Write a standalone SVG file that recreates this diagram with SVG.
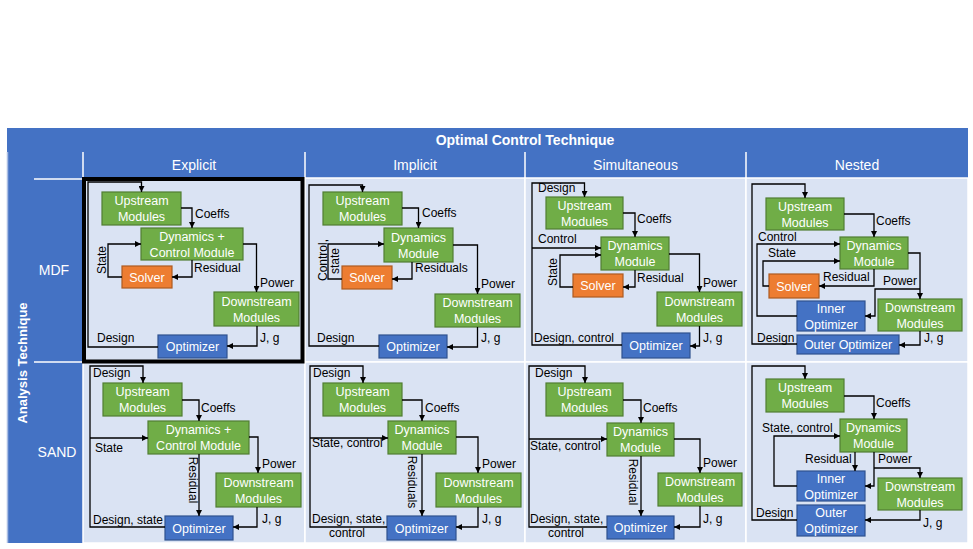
<svg xmlns="http://www.w3.org/2000/svg" width="973" height="549" viewBox="0 0 973 549">
<defs>
<marker id="ah" viewBox="0 0 10 10" refX="10" refY="5" markerWidth="6" markerHeight="6" markerUnits="userSpaceOnUse" orient="auto"><path d="M0,0 L10,5 L0,10 z" fill="#000"/></marker>
<style>
text{font-family:"Liberation Sans",Arial,sans-serif;font-size:12px}
.g{fill:#70AD47;stroke:#507E32;stroke-width:1.2}
.o{fill:#ED7D31;stroke:#AE5A21;stroke-width:1.2}
.b{fill:#4472C4;stroke:#2F528F;stroke-width:1.2}
.w{fill:#fff;text-anchor:middle;font-size:12.5px}
.k{fill:#000}
.m{text-anchor:middle}
.c{fill:none;stroke:#000;stroke-width:1.3}
.a{marker-end:url(#ah)}
.h{fill:#fff;font-size:14px;text-anchor:middle}
.t{fill:#fff;font-weight:bold;text-anchor:middle}
.cell{fill:#DAE3F3;stroke:#fff;stroke-width:1.5}
.wl{stroke:#fff;stroke-width:1.5}
</style>
</defs>
<rect x="0" y="0" width="973" height="549" fill="#fff"/>
<g id="table">
<rect x="7" y="128" width="961" height="415" fill="#4472C4"/>
<line x1="7.5" y1="152" x2="7.5" y2="543" stroke="#A9BDE3" stroke-width="1.5"/>
<rect class="cell" x="83" y="178" width="222" height="184"/>
<rect class="cell" x="305" y="178" width="220" height="184"/>
<rect class="cell" x="525" y="178" width="221" height="184"/>
<rect class="cell" x="746" y="178" width="222" height="184"/>
<rect class="cell" x="83" y="362" width="222" height="181"/>
<rect class="cell" x="305" y="362" width="220" height="181"/>
<rect class="cell" x="525" y="362" width="221" height="181"/>
<rect class="cell" x="746" y="362" width="222" height="181"/>
<line class="wl" x1="83" y1="152" x2="83" y2="178"/>
<line class="wl" x1="305" y1="152" x2="305" y2="178"/>
<line class="wl" x1="525" y1="152" x2="525" y2="178"/>
<line class="wl" x1="746" y1="152" x2="746" y2="178"/>
<line class="wl" x1="34" y1="179" x2="83" y2="179"/>
<line class="wl" x1="34" y1="362" x2="83" y2="362"/>
<text class="t" x="525" y="145" style="font-size:14px">Optimal Control Technique</text>
<text class="h" x="194" y="170">Explicit</text>
<text class="h" x="415" y="170">Implicit</text>
<text class="h" x="635.5" y="170">Simultaneous</text>
<text class="h" x="857" y="170">Nested</text>
<text class="h" x="54" y="275">MDF</text>
<text class="h" x="57" y="457">SAND</text>
<text class="t" x="27" y="363" style="font-size:13px" transform="rotate(-90 27 363)">Analysis Technique</text>
<rect x="84" y="179" width="218.5" height="182.5" fill="none" stroke="#000" stroke-width="4"/>
</g>

<g id="mdf-explicit">
<g id="e1-up"><rect class="g" x="102" y="192" width="79" height="33"/><text class="w" x="141.5" y="205">Upstream</text><text class="w" x="141.5" y="221">Modules</text></g>
<g id="e1-dyn"><rect class="g" x="141" y="228" width="102" height="32"/><text class="w" x="192" y="240.5">Dynamics +</text><text class="w" x="192" y="256.5">Control Module</text></g>
<g id="e1-sol"><rect class="o" x="122" y="266" width="50" height="22"/><text class="w" x="147" y="281.5">Solver</text></g>
<g id="e1-down"><rect class="g" x="214" y="292" width="85" height="34"/><text class="w" x="256.5" y="305.5">Downstream</text><text class="w" x="256.5" y="321.5">Modules</text></g>
<g id="e1-opt"><rect class="b" x="158" y="335" width="69" height="23"/><text class="w" x="192.5" y="351">Optimizer</text></g>
</g>

<g id="mdf-implicit">
<g id="i1-up"><rect class="g" x="323" y="192" width="79" height="33"/><text class="w" x="362.5" y="205">Upstream</text><text class="w" x="362.5" y="221">Modules</text></g>
<g id="i1-dyn"><rect class="g" x="384" y="228" width="69" height="34"/><text class="w" x="418.5" y="241.5">Dynamics</text><text class="w" x="418.5" y="257.5">Module</text></g>
<g id="i1-sol"><rect class="o" x="342" y="266" width="50" height="23"/><text class="w" x="367" y="282">Solver</text></g>
<g id="i1-down"><rect class="g" x="435" y="294" width="85" height="33"/><text class="w" x="477.5" y="307">Downstream</text><text class="w" x="477.5" y="323">Modules</text></g>
<g id="i1-opt"><rect class="b" x="379" y="335" width="68" height="23"/><text class="w" x="413" y="351">Optimizer</text></g>
</g>

<g id="mdf-simultaneous">
<g id="s1-up"><rect class="g" x="546" y="197" width="77" height="32"/><text class="w" x="584.5" y="209.5">Upstream</text><text class="w" x="584.5" y="225.5">Modules</text></g>
<g id="s1-dyn"><rect class="g" x="601" y="237" width="68" height="33"/><text class="w" x="635" y="250">Dynamics</text><text class="w" x="635" y="266">Module</text></g>
<g id="s1-sol"><rect class="o" x="573" y="274" width="50" height="23"/><text class="w" x="598" y="290">Solver</text></g>
<g id="s1-down"><rect class="g" x="657" y="292" width="85" height="34"/><text class="w" x="699.5" y="305.5">Downstream</text><text class="w" x="699.5" y="321.5">Modules</text></g>
<g id="s1-opt"><rect class="b" x="622" y="333" width="68" height="25"/><text class="w" x="656" y="350">Optimizer</text></g>
</g>

<g id="mdf-nested">
<g id="n1-up"><rect class="g" x="766" y="198" width="78" height="32"/><text class="w" x="805" y="210.5">Upstream</text><text class="w" x="805" y="226.5">Modules</text></g>
<g id="n1-dyn"><rect class="g" x="840" y="237" width="68" height="32"/><text class="w" x="874" y="249.5">Dynamics</text><text class="w" x="874" y="265.5">Module</text></g>
<g id="n1-sol"><rect class="o" x="769" y="274" width="50" height="24"/><text class="w" x="794" y="290.5">Solver</text></g>
<g id="n1-inner"><rect class="b" x="797" y="301" width="68" height="30"/><text class="w" x="831" y="312.5">Inner</text><text class="w" x="831" y="328.5">Optimizer</text></g>
<g id="n1-down"><rect class="g" x="878" y="299" width="84" height="32"/><text class="w" x="920" y="311.5">Downstream</text><text class="w" x="920" y="327.5">Modules</text></g>
<g id="n1-outer"><rect class="b" x="797" y="335" width="102" height="19"/><text class="w" x="848" y="349">Outer Optimizer</text></g>
</g>

<g id="sand-explicit">
<g id="e2-up"><rect class="g" x="103" y="383" width="79" height="33"/><text class="w" x="142.5" y="396">Upstream</text><text class="w" x="142.5" y="412">Modules</text></g>
<g id="e2-dyn"><rect class="g" x="148" y="421" width="101" height="33"/><text class="w" x="198.5" y="434">Dynamics +</text><text class="w" x="198.5" y="450">Control Module</text></g>
<g id="e2-down"><rect class="g" x="216" y="473" width="85" height="34"/><text class="w" x="258.5" y="486.5">Downstream</text><text class="w" x="258.5" y="502.5">Modules</text></g>
<g id="e2-opt"><rect class="b" x="165" y="516" width="68" height="24"/><text class="w" x="199" y="532.5">Optimizer</text></g>
</g>

<g id="sand-implicit">
<g id="i2-up"><rect class="g" x="323" y="383" width="79" height="33"/><text class="w" x="362.5" y="396">Upstream</text><text class="w" x="362.5" y="412">Modules</text></g>
<g id="i2-dyn"><rect class="g" x="388" y="421" width="68" height="33"/><text class="w" x="422" y="434">Dynamics</text><text class="w" x="422" y="450">Module</text></g>
<g id="i2-down"><rect class="g" x="436" y="473" width="85" height="34"/><text class="w" x="478.5" y="486.5">Downstream</text><text class="w" x="478.5" y="502.5">Modules</text></g>
<g id="i2-opt"><rect class="b" x="387" y="516" width="69" height="24"/><text class="w" x="421.5" y="532.5">Optimizer</text></g>
</g>

<g id="sand-simultaneous">
<g id="s2-up"><rect class="g" x="546" y="383" width="77" height="33"/><text class="w" x="584.5" y="396">Upstream</text><text class="w" x="584.5" y="412">Modules</text></g>
<g id="s2-dyn"><rect class="g" x="607" y="423" width="67" height="33"/><text class="w" x="640.5" y="436">Dynamics</text><text class="w" x="640.5" y="452">Module</text></g>
<g id="s2-down"><rect class="g" x="658" y="473" width="84" height="33"/><text class="w" x="700" y="486">Downstream</text><text class="w" x="700" y="502">Modules</text></g>
<g id="s2-opt"><rect class="b" x="607" y="516" width="67" height="23"/><text class="w" x="640.5" y="532">Optimizer</text></g>
</g>

<g id="sand-nested">
<g id="n2-up"><rect class="g" x="766" y="379" width="78" height="33"/><text class="w" x="805" y="392">Upstream</text><text class="w" x="805" y="408">Modules</text></g>
<g id="n2-dyn"><rect class="g" x="840" y="419" width="67" height="33"/><text class="w" x="873.5" y="432">Dynamics</text><text class="w" x="873.5" y="448">Module</text></g>
<g id="n2-inner"><rect class="b" x="797" y="471" width="68" height="30"/><text class="w" x="831" y="482.5">Inner</text><text class="w" x="831" y="498.5">Optimizer</text></g>
<g id="n2-down"><rect class="g" x="878" y="478" width="84" height="32"/><text class="w" x="920" y="490.5">Downstream</text><text class="w" x="920" y="506.5">Modules</text></g>
<g id="n2-outer"><rect class="b" x="797" y="505" width="68" height="31"/><text class="w" x="831" y="517">Outer</text><text class="w" x="831" y="533">Optimizer</text></g>
</g>

<g id="connectors">
<g id="c-e1">
<polyline class="c a" points="158,347 88,347 88,182 141.5,182 141.5,192"/>
<polyline class="c a" points="181,208 192,208 192,228"/>
<polyline class="c a" points="243,244 256.5,244 256.5,292"/>
<polyline class="c a" points="192,260 192,277 172,277"/>
<polyline class="c a" points="122,277 108,277 108,244 141,244"/>
<polyline class="c a" points="257,326 257,346 227,346"/>
</g>
<g id="c-i1">
<polyline class="c a" points="379,346 309,346 309,185 362.5,185 362.5,192"/>
<polyline class="c a" points="402,208 418.5,208 418.5,228"/>
<polyline class="c a" points="453,245 477.5,245 477.5,294"/>
<polyline class="c a" points="412,262 412,279 392,279"/>
<polyline class="c a" points="342,279 328,279 328,244 384,244"/>
<polyline class="c a" points="477.5,327 477.5,347 447,347"/>
</g>
<g id="c-s1">
<polyline class="c a" points="622,345 532,345 532,183 584.5,183 584.5,197"/>
<polyline class="c a" points="532,248 601,248"/>
<polyline class="c a" points="623,213 635,213 635,237"/>
<polyline class="c a" points="669,254 699.5,254 699.5,292"/>
<polyline class="c a" points="635,270 635,287 623,287"/>
<polyline class="c a" points="573,287 560,287 560,255 601,255"/>
<polyline class="c a" points="699.5,326 699.5,346 690,346"/>
</g>
<g id="c-n1">
<polyline class="c a" points="797,344 752,344 752,184 805,184 805,198"/>
<polyline class="c a" points="844,214 874,214 874,237"/>
<polyline class="c a" points="797,316 757,316 757,244 840,244"/>
<polyline class="c a" points="769,286 763,286 763,261 840,261"/>
<polyline class="c a" points="874,269 874,286 819,286"/>
<polyline class="c a" points="908,253 920,253 920,299"/>
<polyline class="c a" points="920,289 875,289 875,316 865,316"/>
<polyline class="c a" points="920,331 920,345 899,345"/>
</g>
<g id="c-e2">
<polyline class="c a" points="165,527 90,527 90,366 143,366 143,383"/>
<polyline class="c a" points="90,438 148,438"/>
<polyline class="c a" points="182,400 199,400 199,421"/>
<polyline class="c a" points="249,437 258,437 258,473"/>
<polyline class="c a" points="199,454 199,516"/>
<polyline class="c a" points="257,507 257,527 233,527"/>
</g>
<g id="c-i2">
<polyline class="c a" points="387,527 310,527 310,366 363,366 363,383"/>
<polyline class="c a" points="310,438 388,438"/>
<polyline class="c a" points="402,400 422,400 422,421"/>
<polyline class="c a" points="456,437 478,437 478,473"/>
<polyline class="c a" points="422,454 422,516"/>
<polyline class="c a" points="478,507 478,527 456,527"/>
</g>
<g id="c-s2">
<polyline class="c a" points="607,527 529,527 529,366 585,366 585,383"/>
<polyline class="c a" points="529,439 607,439"/>
<polyline class="c a" points="623,400 641,400 641,423"/>
<polyline class="c a" points="674,439 700,439 700,473"/>
<polyline class="c a" points="641,456 641,516"/>
<polyline class="c a" points="700,506 700,527 674,527"/>
</g>
<g id="c-n2">
<polyline class="c a" points="797,520 752,520 752,366 805,366 805,379"/>
<polyline class="c a" points="844,396 874,396 874,419"/>
<polyline class="c a" points="797,486 774,486 774,436 840,436"/>
<polyline class="c a" points="855,452 855,471"/>
<polyline class="c a" points="874,452 874,486 865,486"/>
<polyline class="c a" points="874,468 920,468 920,478"/>
<polyline class="c a" points="920,510 920,520 865,520"/>
</g>
</g>

<g id="labels">
<text class="k" x="195" y="218">Coeffs</text>
<text class="k" x="194" y="272">Residual</text>
<text class="k" x="260" y="287">Power</text>
<text class="k m" x="106" y="260" transform="rotate(-90 106 260)">State</text>
<text class="k" x="97" y="342">Design</text>
<text class="k" x="260" y="342">J, g</text>

<text class="k" x="422" y="217">Coeffs</text>
<text class="k" x="415" y="272">Residuals</text>
<text class="k" x="481" y="288">Power</text>
<text class="k m" x="326.5" y="260" transform="rotate(-90 326.5 260)">Control,</text>
<text class="k m" x="338.5" y="261" transform="rotate(-90 338.5 261)">state</text>
<text class="k" x="317" y="342">Design</text>
<text class="k" x="481" y="342">J, g</text>

<text class="k" x="538" y="192">Design</text>
<text class="k" x="538" y="243">Control</text>
<text class="k" x="637" y="223">Coeffs</text>
<text class="k" x="637" y="282">Residual</text>
<text class="k" x="703" y="287">Power</text>
<text class="k m" x="557" y="272" transform="rotate(-90 557 272)">State</text>
<text class="k" x="534" y="342">Design, control</text>
<text class="k" x="703" y="342">J, g</text>

<text class="k" x="758" y="241">Control</text>
<text class="k" x="768" y="257">State</text>
<text class="k" x="876" y="225">Coeffs</text>
<text class="k" x="823" y="281">Residual</text>
<text class="k" x="883" y="285">Power</text>
<text class="k" x="757" y="342">Design</text>
<text class="k" x="924" y="342">J, g</text>

<text class="k" x="93" y="377">Design</text>
<text class="k" x="95" y="452">State</text>
<text class="k" x="201" y="412">Coeffs</text>
<text class="k" x="262" y="468">Power</text>
<text class="k m" x="188.5" y="480" transform="rotate(90 188.5 480)">Residual</text>
<text class="k" x="262" y="523">J, g</text>
<text class="k" x="93" y="524">Design, state</text>

<text class="k" x="313" y="377">Design</text>
<text class="k" x="312" y="447">State, control</text>
<text class="k" x="425" y="412">Coeffs</text>
<text class="k" x="482" y="468">Power</text>
<text class="k m" x="408" y="482" transform="rotate(90 408 482)">Residuals</text>
<text class="k" x="482" y="523">J, g</text>
<text class="k" x="312" y="523">Design, state,</text>
<text class="k" x="329" y="537">control</text>

<text class="k" x="535" y="377">Design</text>
<text class="k" x="530" y="450">State, control</text>
<text class="k" x="643" y="412">Coeffs</text>
<text class="k" x="703" y="467">Power</text>
<text class="k m" x="629" y="482" transform="rotate(90 629 482)">Residual</text>
<text class="k" x="703" y="523">J, g</text>
<text class="k" x="530" y="523">Design, state,</text>
<text class="k" x="548" y="537">control</text>

<text class="k" x="756" y="517">Design</text>
<text class="k" x="876" y="407">Coeffs</text>
<text class="k" x="762" y="432">State, control</text>
<text class="k" x="805" y="463">Residual</text>
<text class="k" x="878" y="463">Power</text>
<text class="k" x="923" y="527">J, g</text>
</g>
</svg>
